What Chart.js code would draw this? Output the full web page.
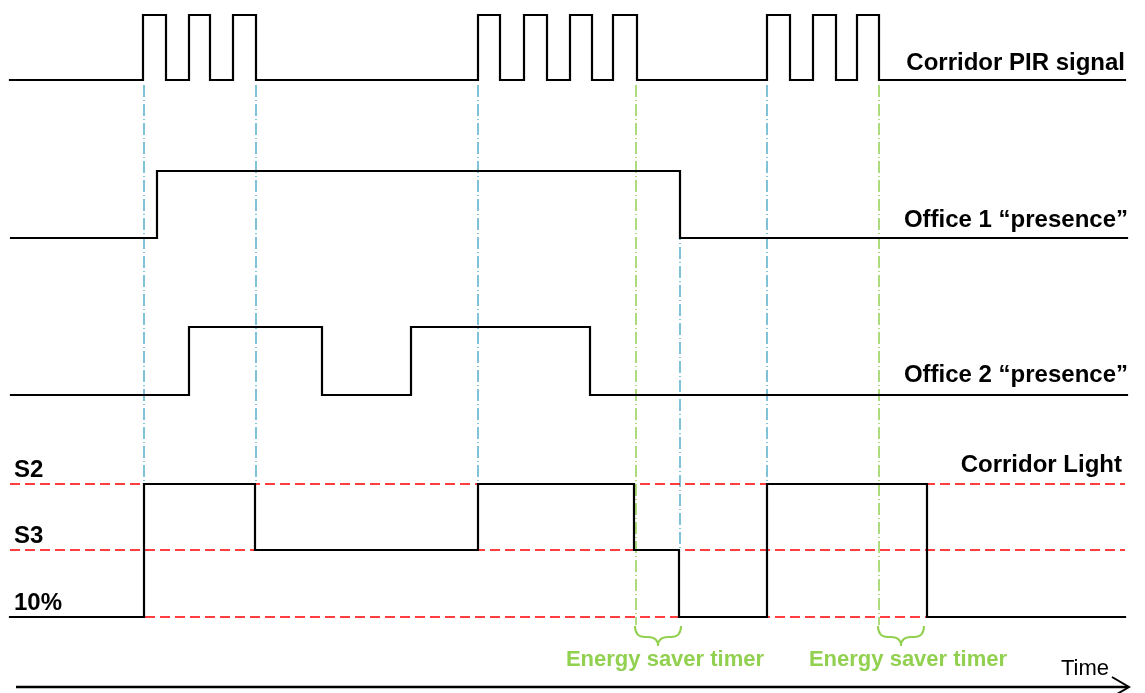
<!DOCTYPE html>
<html>
<head>
<meta charset="utf-8">
<script src="https://cdn.jsdelivr.net/npm/chart.js@4"></script>
<style>
  html, body { margin: 0; padding: 0; background: #fff; }
  #wrap { width: 1145px; height: 693px; position: relative; }
</style>
</head>
<body>
<div id="wrap"><canvas id="timingChart"></canvas></div>
<script>
// transition times (time axis units) and the state right after each one
var pirTimes = [10, 143, 166, 189, 210, 233, 256, 478, 500, 524, 547, 570, 592, 613, 637, 767, 790, 813, 836, 857, 879, 1125];
var pirStates = [0, 1, 0, 1, 0, 1, 0, 1, 0, 1, 0, 1, 0, 1, 0, 1, 0, 1, 0, 1, 0, 0];

var office1Times = [11, 157, 680, 1127];
var office1States = [0, 1, 0, 0];

var office2Times = [11, 189, 322, 411, 590, 1127];
var office2States = [0, 1, 0, 1, 0, 0];

var lightTimes = [10, 144, 255, 478, 634, 679, 767, 927, 1125];
var lightLevels = ['10%', 'S2', 'S3', 'S2', 'S3', '10%', 'S2', '10%', '10%'];
var levelNames = ['S2', 'S3', '10%'];

var motionMarks = [144, 256, 478, 680, 767];
var timerMarks = [636, 879];
var timerLength = 44;

// layout of the rows on the canvas (low, high)
var rowY = { pir: [80, 15], office1: [238, 171], office2: [395, 327] };
var levelY = { 'S2': 484, 'S3': 550, '10%': 617 };
var lineStart = 10, lineEnd = 1125;

function steps(times, states, row) {
  return times.map(function (t, i) { return { x: t, y: row[states[i] ? 1 : 0] }; });
}

function signal(data) {
  return {
    data: data, stepped: true, borderColor: '#000', borderWidth: 2.2,
    pointRadius: 0, borderJoinStyle: 'miter', borderCapStyle: 'square', fill: false
  };
}

var datasets = [
  signal(steps(pirTimes, pirStates, rowY.pir)),
  signal(steps(office1Times, office1States, rowY.office1)),
  signal(steps(office2Times, office2States, rowY.office2)),
  signal(lightTimes.map(function (t, i) { return { x: t, y: levelY[lightLevels[i]] }; }))
];

// dashed red reference levels
levelNames.forEach(function (n) {
  datasets.push({
    data: [{ x: lineStart, y: levelY[n] }, { x: lineEnd, y: levelY[n] }],
    borderColor: '#ff0000', borderWidth: 1.5, borderDash: [10, 5], pointRadius: 0
  });
});

// dash-dot markers: blue = motion / presence events, green = timer start
motionMarks.forEach(function (t, i) {
  var span = i === 3 ? [rowY.office1[1], levelY['S3']] : [rowY.pir[0] + 5, levelY['S2']];
  datasets.push({
    data: [{ x: t, y: span[0] }, { x: t, y: span[1] }],
    borderColor: '#4aa8c8', borderWidth: 1.4, borderDash: [12, 3, 1, 3], pointRadius: 0
  });
});
timerMarks.forEach(function (t) {
  datasets.push({
    data: [{ x: t, y: rowY.pir[0] + 5 }, { x: t, y: levelY['10%'] + 8 }],
    borderColor: '#8ccc48', borderWidth: 1.4, borderDash: [12, 3, 1, 3], pointRadius: 0
  });
});

var decor = {
  id: 'decor',
  afterDraw: function (chart) {
    var ctx = chart.ctx, xs = chart.scales.x, ys = chart.scales.y;
    ctx.save();
    ctx.fillStyle = '#000';
    ctx.textBaseline = 'alphabetic';
    ctx.font = 'bold 24px "Liberation Sans", Arial, sans-serif';
    ctx.textAlign = 'right';
    ctx.fillText('Corridor PIR signal', xs.getPixelForValue(1125), 70);
    ctx.fillText('Office 1 \u201cpresence\u201d', xs.getPixelForValue(1128), 227);
    ctx.fillText('Office 2 \u201cpresence\u201d', xs.getPixelForValue(1128), 382);
    ctx.fillText('Corridor Light', xs.getPixelForValue(1122), 472);
    ctx.textAlign = 'left';
    levelNames.forEach(function (n) {
      ctx.fillText(n, 14, ys.getPixelForValue(levelY[n]) - 7);
    });

    // energy saver braces
    ctx.strokeStyle = '#92d050';
    ctx.lineWidth = 2;
    ctx.fillStyle = '#92d050';
    ctx.font = 'bold 22px "Liberation Sans", Arial, sans-serif';
    ctx.textAlign = 'center';
    timerMarks.forEach(function (t) {
      var x0 = xs.getPixelForValue(t) - 1, x1 = xs.getPixelForValue(t + timerLength) + 1;
      var xm = (x0 + x1) / 2, yt = 626, ym = 637, yb = 646, r = 10;
      ctx.beginPath();
      ctx.moveTo(x0, yt);
      ctx.quadraticCurveTo(x0, ym, x0 + r, ym);
      ctx.lineTo(xm - r, ym);
      ctx.quadraticCurveTo(xm, ym, xm, yb);
      ctx.quadraticCurveTo(xm, ym, xm + r, ym);
      ctx.lineTo(x1 - r, ym);
      ctx.quadraticCurveTo(x1, ym, x1, yt);
      ctx.stroke();
      ctx.fillText('Energy saver timer', xm + 7, 666);
    });

    // time axis
    ctx.strokeStyle = '#000';
    ctx.fillStyle = '#000';
    ctx.lineWidth = 2.5;
    ctx.beginPath();
    ctx.moveTo(16, 687);
    ctx.lineTo(1128, 687);
    ctx.stroke();
    ctx.lineWidth = 2;
    ctx.beginPath();
    ctx.moveTo(1112, 677);
    ctx.lineTo(1129, 687);
    ctx.lineTo(1112, 697);
    ctx.stroke();
    ctx.font = '22px "Liberation Sans", Arial, sans-serif';
    ctx.textAlign = 'right';
    ctx.fillText('Time', 1109, 675);
    ctx.restore();
  }
};

new Chart(document.getElementById('timingChart'), {
  type: 'scatter',
  data: { datasets: datasets.map(function (d) { d.showLine = true; d.clip = false; return d; }) },
  options: {
    responsive: true,
    maintainAspectRatio: false,
    animation: false,
    layout: { padding: 0 },
    plugins: { legend: { display: false }, tooltip: { enabled: false } },
    scales: {
      x: { type: 'linear', min: 0, max: 1145, display: false },
      y: { type: 'linear', min: 0, max: 693, reverse: true, display: false }
    }
  },
  plugins: [decor]
});
</script>
</body>
</html>
